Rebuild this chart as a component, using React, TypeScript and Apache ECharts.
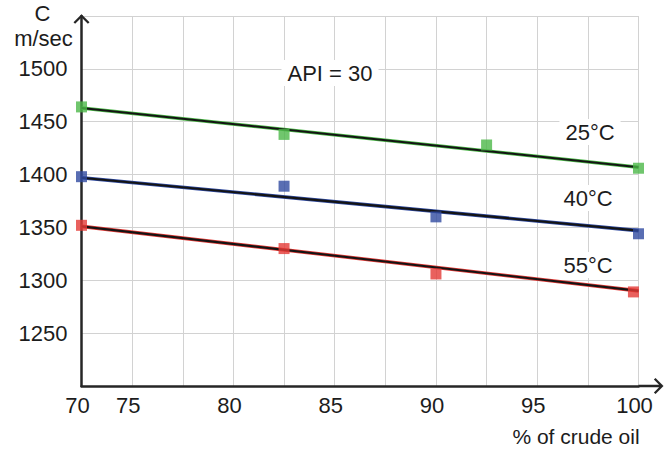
import React, { useEffect, useRef } from "react";
import * as echarts from "echarts";

// x positions are given in grid steps of the original figure (its tick labels are not evenly spaced)
const xTickLabels = ["70", "75", "", "80", "", "85", "", "90", "", "95", "", "100"];

const green25X = [0, 4, 8, 11];
const green25Y = [1464, 1438, 1428, 1406];
const blue40X = [0, 4, 7, 11];
const blue40Y = [1398, 1389, 1360, 1344];
const red55X = [0, 4, 7, 10.9];
const red55Y = [1352, 1330, 1306, 1289];

const trendX = [0, 11];
const trend25 = [1463, 1407];
const trend40 = [1397, 1347];
const trend55 = [1351, 1290];

const seriesNames = ["25°C", "40°C", "55°C"];
const colors = ["#4cb848", "#2f4aa0", "#e43a36"];

const FONT = '"Liberation Sans", Arial, sans-serif';
const AXIS_COLOR = "#262626";

const xArrow =
  "path://M8 0 L16 8 L14.4 9.6 L8 3.2 L1.6 9.6 L0 8 Z M6.75 1 L9.25 1 L9.25 25 L6.75 25 Z";
const yArrow = "path://M8 0 L16 8 L14.4 9.6 L8 3.2 L1.6 9.6 L0 8 Z";

function pairs(xs: number[], ys: number[]) {
  return xs.map((x, i) => [x, ys[i]]);
}

export default function App() {
  const ref = useRef<HTMLDivElement>(null);
  useEffect(() => {
    if (!ref.current) return;
    const chart = echarts.init(ref.current, undefined, { renderer: "svg" });
    const pts = [pairs(green25X, green25Y), pairs(blue40X, blue40Y), pairs(red55X, red55Y)];
    const trends = [trend25, trend40, trend55];
    const series: any[] = [];
    trends.forEach((t, i) => {
      series.push({
        type: "line",
        name: seriesNames[i] + " trend color",
        data: pairs(trendX, t),
        symbol: "none",
        lineStyle: { color: colors[i], width: 3.6 },
        z: 2,
      });
      series.push({
        type: "line",
        name: seriesNames[i] + " trend",
        data: pairs(trendX, t),
        symbol: "none",
        lineStyle: { color: "#141414", width: 2.1 },
        z: 3,
      });
    });
    pts.forEach((p, i) => {
      series.push({
        type: "scatter",
        name: seriesNames[i],
        data: p,
        symbol: "rect",
        symbolSize: 11,
        itemStyle: { color: colors[i] },
        z: 5,
      });
    });

    const textStyle = (text: string, x: number, y: number, bg = true, size = 22) => ({
      type: "text",
      x,
      y,
      z: 20,
      style: {
        text,
        x: 0,
        y: 0,
        align: "center",
        verticalAlign: "middle",
        font: `${size}px ${FONT}`,
        fill: "#1c1c1c",
        backgroundColor: bg ? "#ffffff" : undefined,
        padding: bg ? [2, 6] : 0,
      },
    });

    chart.setOption({
      animation: false,
      backgroundColor: "#ffffff",
      textStyle: { fontFamily: FONT },
      grid: { left: 81.5, right: 26.5, top: 16, bottom: 63, containLabel: false },
      xAxis: {
        type: "value",
        min: 0,
        max: 11,
        interval: 1,
        axisLine: {
          show: true,
          lineStyle: { color: AXIS_COLOR, width: 2.5 },
          symbol: ["none", xArrow],
          symbolSize: [16, 25],
          symbolOffset: [0, 12.5],
        },
        axisTick: { show: false },
        axisLabel: {
          margin: 8,
          fontSize: 22,
          color: "#1c1c1c",
          fontFamily: FONT,
          padding: [0, 8, 0, 0],
          formatter: (v: number) => xTickLabels[Math.round(v)] ?? "",
        },
        splitLine: { show: true, lineStyle: { color: "#d2d2d2", width: 1 } },
      },
      yAxis: {
        type: "value",
        min: 1200,
        max: 1550,
        interval: 50,
        axisLine: {
          show: true,
          lineStyle: { color: AXIS_COLOR, width: 2.5 },
          symbol: ["none", yArrow],
          symbolSize: [16, 9.6],
          symbolOffset: [0, -3],
        },
        axisTick: { show: false },
        axisLabel: {
          margin: 14,
          fontSize: 22,
          color: "#1c1c1c",
          fontFamily: FONT,
          formatter: (v: number) => (v === 1200 || v === 1550 ? "" : String(v)),
        },
        splitLine: { show: true, lineStyle: { color: "#d2d2d2", width: 1 } },
      },
      graphic: [
        textStyle("API = 30", 330, 73),
        textStyle("25°C", 590, 132),
        textStyle("40°C", 588, 198),
        textStyle("55°C", 588, 265),
        textStyle("C", 42.5, 13.5, false),
        textStyle("m/sec", 43.5, 38.5, false),
        textStyle("% of crude oil", 576, 436, false, 21),
      ],
      series,
    });
    return () => chart.dispose();
  }, []);
  return (
    <div
      ref={ref}
      style={{ position: "fixed", left: 0, top: 0, width: 665, height: 449, background: "#fff" }}
    />
  );
}
